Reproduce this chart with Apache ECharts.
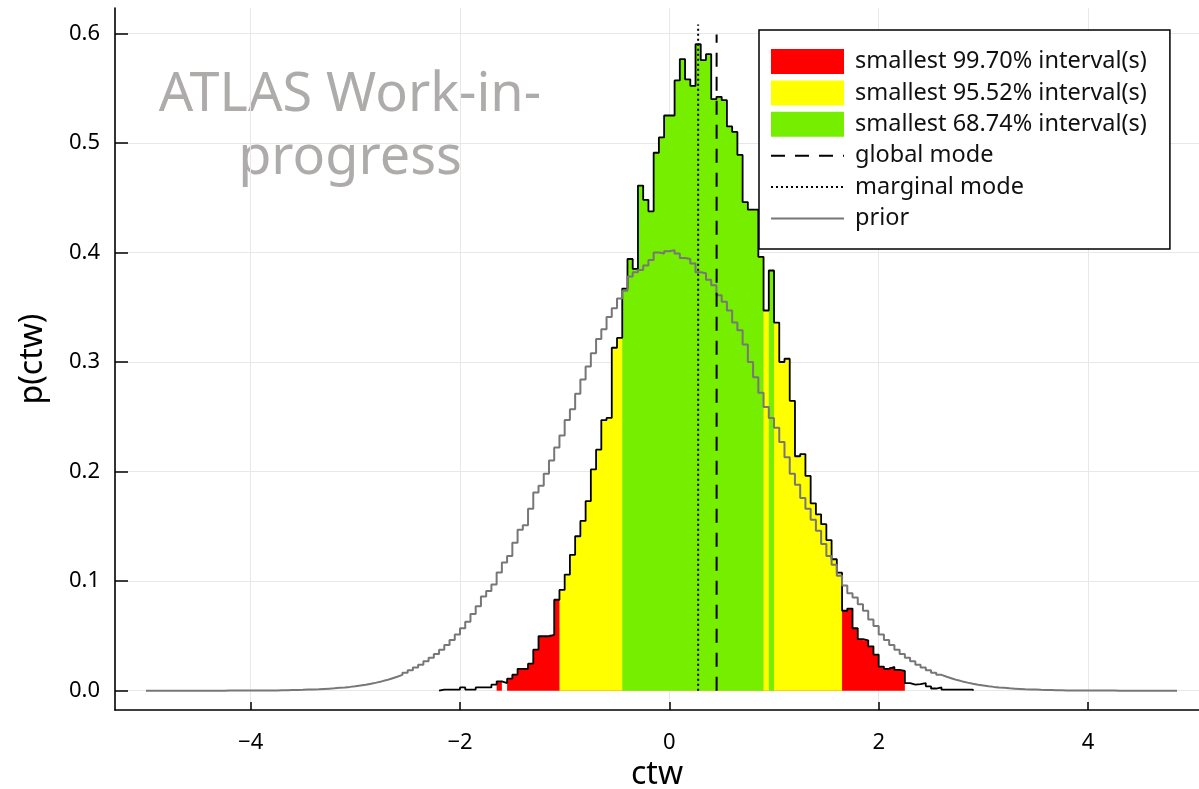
<!DOCTYPE html>
<html>
<head>
<meta charset="utf-8">
<script src="https://cdn.jsdelivr.net/npm/echarts@6/dist/echarts.min.js"></script>
<style>
html,body{margin:0;padding:0;background:#fff;}
#chart{width:1199px;height:789px;}
</style>
</head>
<body>
<div id="chart"></div>
<script>
// ---------------- data ----------------
const binWidth = 0.05;

// posterior histogram of ctw: lower edge of first bin and bin heights
const posteriorStart = -2.2;
const posteriorDensity = [
  0.001, 0.001, 0.001, 0.001, 0.003, 0.001, 0.001, 0.003, 0.003, 0.003,   // -2.20 .. -1.75
  0.0055, 0.0085, 0.007, 0.011, 0.0146, 0.020, 0.020, 0.0247, 0.0375, 0.0497, // -1.70 .. -1.25
  0.0497, 0.051, 0.083, 0.092, 0.106, 0.124, 0.141, 0.155, 0.173, 0.202,  // -1.20 .. -0.75
  0.220, 0.247, 0.249, 0.313, 0.322, 0.367, 0.394, 0.385, 0.461, 0.448,   // -0.70 .. -0.25
  0.4375, 0.491, 0.505, 0.525, 0.525, 0.557, 0.5765, 0.558, 0.552, 0.590, // -0.20 .. 0.25
  0.5756, 0.581, 0.540, 0.542, 0.539, 0.515, 0.510, 0.489, 0.446, 0.439,  // 0.30 .. 0.75
  0.439, 0.396, 0.347, 0.3835, 0.336, 0.300, 0.303, 0.2646, 0.214, 0.216, // 0.80 .. 1.25
  0.196, 0.171, 0.161, 0.152, 0.1375, 0.120, 0.1077, 0.073, 0.075, 0.057, // 1.30 .. 1.75
  0.047, 0.046, 0.0405, 0.033, 0.022, 0.020, 0.0217, 0.019, 0.018, 0.007, // 1.80 .. 2.25
  0.0055, 0.006, 0.007, 0.004, 0.002, 0.003, 0.001, 0.001, 0.001, 0.001,  // 2.30 .. 2.75
  0.001, 0.001                                                            // 2.80 .. 2.85
];

// prior histogram
const priorStart = -5.0;
const priorDensity = [
  0, 0, 0, 0, 0, 0, 0, 0, 0, 0,                                           // -5.00 .. -4.55
  0, 0, 0, 0, 0, 0.0001, 0.0001, 0.0001, 0.0001, 0.0001,                  // -4.50 .. -4.05
  0.0001, 0.0002, 0.0002, 0.0003, 0.0003, 0.0004, 0.0005, 0.0006, 0.0007, 0.0008, // -4.00 .. -3.55
  0.0010, 0.0011, 0.0013, 0.0016, 0.0019, 0.0022, 0.0026, 0.0030, 0.0035, 0.0041, // -3.50 .. -3.05
  0.0048, 0.0055, 0.0064, 0.0074, 0.0085, 0.0097, 0.0112, 0.0127, 0.0145, 0.0165, // -3.00 .. -2.55
  0.0187, 0.0211, 0.0238, 0.0268, 0.0300, 0.0336, 0.0375, 0.0417, 0.0463, 0.0513, // -2.50 .. -2.05
  0.057, 0.063, 0.070, 0.077, 0.086, 0.091, 0.097, 0.108, 0.117, 0.123,   // -2.00 .. -1.55
  0.135, 0.147, 0.151, 0.166, 0.181, 0.187, 0.198, 0.210, 0.222, 0.233,   // -1.50 .. -1.05
  0.247, 0.257, 0.271, 0.284, 0.296, 0.308, 0.321, 0.330, 0.341, 0.349,   // -1.00 .. -0.55
  0.358, 0.365, 0.378, 0.382, 0.384, 0.388, 0.393, 0.400, 0.399, 0.401,   // -0.50 .. -0.05
  0.402, 0.399, 0.395, 0.394, 0.390, 0.382, 0.381, 0.375, 0.370, 0.361,   // 0.00 .. 0.45
  0.355, 0.347, 0.336, 0.329, 0.316, 0.300, 0.286, 0.272, 0.259, 0.249,   // 0.50 .. 0.95
  0.240, 0.227, 0.213, 0.198, 0.188, 0.176, 0.166, 0.156, 0.146, 0.134,   // 1.00 .. 1.45
  0.123, 0.115, 0.105, 0.096, 0.089, 0.085, 0.079, 0.073, 0.065, 0.059,   // 1.50 .. 1.95
  0.0513, 0.0463, 0.0417, 0.0375, 0.0336, 0.0300, 0.0268, 0.0238, 0.0211, 0.0187, // 2.00 .. 2.45
  0.0165, 0.0145, 0.0127, 0.0112, 0.0097, 0.0085, 0.0074, 0.0064, 0.0055, 0.0048, // 2.50 .. 2.95
  0.0041, 0.0035, 0.0030, 0.0026, 0.0022, 0.0019, 0.0016, 0.0013, 0.0011, 0.0010, // 3.00 .. 3.45
  0.0008, 0.0007, 0.0006, 0.0005, 0.0004, 0.0003, 0.0003, 0.0002, 0.0002, 0.0001, // 3.50 .. 3.95
  0.0001, 0.0001, 0.0001, 0.0001, 0.0001, 0, 0, 0, 0, 0,                  // 4.00 .. 4.45
  0, 0, 0, 0, 0, 0, 0                                                     // 4.50 .. 4.80
];

// smallest credible intervals [lower, upper]
const interval9970 = [[-1.65, -1.60], [-1.55, 2.25]];
const interval9552 = [[-1.05, 1.65]];
const interval6874 = [[-0.45, 0.90], [0.95, 1.00]];

const globalMode = 0.4515;
const globalModeTop = 0.599;
const marginalMode = 0.275;
const marginalModeTop = 0.608;

const xTicks = [-4, -2, 0, 2, 4];
const yTicks = [0, 0.1, 0.2, 0.3, 0.4, 0.5, 0.6];

const names = {
  i9970: 'smallest 99.70% interval(s)',
  i9552: 'smallest 95.52% interval(s)',
  i6874: 'smallest 68.74% interval(s)',
  global: 'global mode',
  marginal: 'marginal mode',
  prior: 'prior'
};

// ---------------- helpers ----------------
function edge(start, i) { return Math.round((start + i * binWidth) * 10000) / 10000; }

function stepOutline(start, vals) {
  const pts = [[edge(start, 0), 0]];
  vals.forEach((v, i) => {
    pts.push([edge(start, i), v]);
    pts.push([edge(start, i + 1), v]);
  });
  pts.push([edge(start, vals.length), 0]);
  return pts;
}

function fillRender(params, api) {
  const lo = api.value(0), hi = api.value(1);
  const pts = [api.coord([lo, 0])];
  posteriorDensity.forEach((v, i) => {
    const a = edge(posteriorStart, i), b = edge(posteriorStart, i + 1);
    if (a >= lo - 1e-9 && b <= hi + 1e-9) {
      pts.push(api.coord([a, v]));
      pts.push(api.coord([b, v]));
    }
  });
  pts.push(api.coord([hi, 0]));
  return {
    type: 'polygon',
    shape: { points: pts },
    style: { fill: api.visual('color'), stroke: null }
  };
}

function intervalData(list) { return list.map(p => [p[0], p[1], 0]); }

const FONT = 'Noto Sans';

const chart = echarts.init(document.getElementById('chart'), null, { renderer: 'canvas' });

chart.setOption({
  animation: false,
  backgroundColor: '#ffffff',
  grid: { left: 115, right: 0, top: 8, bottom: 79, containLabel: false, outerBoundsMode: 'none' },
  xAxis: {
    type: 'value',
    min: -5.296,
    max: 5.06,
    name: 'ctw',
    nameLocation: 'middle',
    nameGap: 46,
    nameTextStyle: { fontFamily: FONT, fontSize: 32, color: '#000' },
    axisLine: { show: true, onZero: false, lineStyle: { color: '#000', width: 1.6 } },
    axisTick: { show: true, inside: true, length: 8, customValues: xTicks, lineStyle: { color: '#000', width: 1.5 } },
    axisLabel: {
      customValues: xTicks,
      formatter: v => String(v).replace('-', '\u2212'),
      fontFamily: FONT, fontSize: 22, color: '#000', margin: 22
    },
    splitLine: { show: true, lineStyle: { color: '#e8e8e8', width: 1 } }
  },
  yAxis: {
    type: 'value',
    min: -0.0176,
    max: 0.6231,
    name: 'p(ctw)',
    nameLocation: 'middle',
    nameGap: 66,
    nameTextStyle: { fontFamily: FONT, fontSize: 32, color: '#000' },
    axisLine: { show: true, onZero: false, lineStyle: { color: '#000', width: 1.6 } },
    axisTick: { show: true, inside: true, length: 13, customValues: yTicks, lineStyle: { color: '#000', width: 1.5 } },
    axisLabel: {
      customValues: yTicks,
      formatter: v => v.toFixed(1),
      fontFamily: FONT, fontSize: 22, color: '#000', margin: 15
    },
    splitLine: { show: true, lineStyle: { color: '#e8e8e8', width: 1 } }
  },
  legend: {
    orient: 'vertical',
    left: 759,
    top: 30,
    padding: [19, 23, 18, 11],
    itemWidth: 73,
    itemHeight: 25,
    itemGap: 6.4,
    backgroundColor: '#fff',
    borderColor: '#000',
    borderWidth: 1.5,
    borderRadius: 0,
    selectedMode: false,
    textStyle: { fontFamily: FONT, fontSize: 23.5, color: '#111', lineHeight: 25, padding: [0, 0, 0, 6] },
    data: [
      { name: names.i9970, icon: 'rect' },
      { name: names.i9552, icon: 'rect' },
      { name: names.i6874, icon: 'rect' },
      { name: names.global, itemStyle: { opacity: 0 } },
      { name: names.marginal, itemStyle: { opacity: 0 } },
      { name: names.prior, itemStyle: { opacity: 0 } }
    ]
  },
  graphic: [
    {
      type: 'text', x: 350, y: 96, silent: true,
      style: { text: 'ATLAS Work-in-', fontFamily: FONT, fontSize: 54, fill: '#aeabab', align: 'center', verticalAlign: 'middle' }
    },
    {
      type: 'text', x: 350, y: 159, silent: true,
      style: { text: 'progress', fontFamily: FONT, fontSize: 54, fill: '#aeabab', align: 'center', verticalAlign: 'middle' }
    }
  ],
  series: [
    {
      name: names.i9970, type: 'custom', renderItem: fillRender,
      itemStyle: { color: '#ff0000' },
      encode: { x: [0, 1], y: 2 },
      data: intervalData(interval9970), z: 2
    },
    {
      name: names.i9552, type: 'custom', renderItem: fillRender,
      itemStyle: { color: '#ffff00' },
      encode: { x: [0, 1], y: 2 },
      data: intervalData(interval9552), z: 2
    },
    {
      name: names.i6874, type: 'custom', renderItem: fillRender,
      itemStyle: { color: '#76ee00' },
      encode: { x: [0, 1], y: 2 },
      data: intervalData(interval6874), z: 2
    },
    {
      name: 'posterior', type: 'line', symbol: 'none', showSymbol: false,
      lineStyle: { color: '#000', width: 1.8 },
      data: stepOutline(posteriorStart, posteriorDensity), z: 3
    },
    {
      name: names.prior, type: 'line', symbol: 'none', showSymbol: false,
      itemStyle: { color: '#777' },
      lineStyle: { color: '#777', width: 2 },
      data: stepOutline(priorStart, priorDensity), z: 4
    },
    {
      name: names.global, type: 'line', symbol: 'none', showSymbol: false,
      itemStyle: { color: '#000' },
      lineStyle: { color: '#000', width: 2, type: [14, 10] },
      data: [[globalMode, 0], [globalMode, globalModeTop]], z: 5
    },
    {
      name: names.marginal, type: 'line', symbol: 'none', showSymbol: false,
      itemStyle: { color: '#000' },
      lineStyle: { color: '#000', width: 2, type: [2, 3] },
      data: [[marginalMode, 0], [marginalMode, marginalModeTop]], z: 5
    }
  ]
});
</script>
</body>
</html>
